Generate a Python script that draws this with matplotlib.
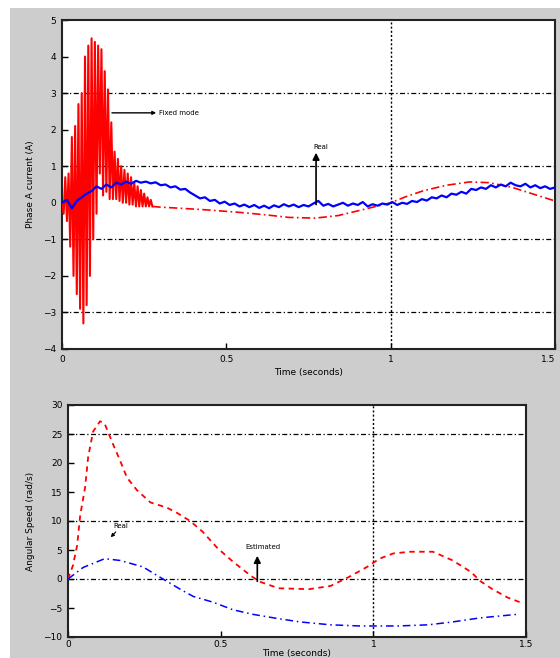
import numpy as np
import matplotlib
matplotlib.use("Agg")
import matplotlib.pyplot as plt
from matplotlib.patches import Rectangle

# ---------------- data: top panel (phase A current) ----------------
# red: start-up transient, read as peak / trough per switching cycle (0.01 s)
red_cycle = 0.01
red_peaks = [0.0, 0.7, 0.8, 1.8, 2.1, 2.7, 3.0, 4.0, 4.3, 4.5,
             4.4, 4.3, 4.2, 3.6, 3.1, 2.2, 1.4, 1.2, 1.0, 0.9,
             0.8, 0.7, 0.55, 0.45, 0.35, 0.25, 0.15, 0.08]
red_troughs = [-0.3, -0.5, -1.2, -2.0, -2.5, -2.9, -3.3, -2.8, -2.0, -1.0,
               -0.3, 0.8, 0.2, 0.3, 0.1, 0.1, 0.1, 0.05, 0.0, 0.0,
               -0.05, -0.05, -0.1, -0.1, -0.1, -0.1, -0.1, -0.1]
red_tail_t = [0.275, 0.30, 0.36, 0.45, 0.55, 0.62, 0.69, 0.77, 0.84, 0.91,
              1.00, 1.05, 1.10, 1.17, 1.24, 1.30, 1.37, 1.44, 1.50]
red_tail_i = [-0.1, -0.12, -0.15, -0.20, -0.27, -0.33, -0.40, -0.42, -0.35, -0.20,
              0.00, 0.18, 0.33, 0.48, 0.57, 0.55, 0.42, 0.22, 0.05]

blue_t = list(np.round(np.arange(0, 1.5001, 0.015), 3))
blue_i = [0.00, 0.08, -0.15, 0.05, 0.15, 0.25, 0.32, 0.45, 0.38, 0.50,
          0.42, 0.55, 0.50, 0.58, 0.52, 0.60, 0.55, 0.58, 0.53, 0.56,
          0.48, 0.50, 0.42, 0.45, 0.36, 0.38, 0.28, 0.20, 0.12, 0.15,
          0.05, 0.08, -0.02, 0.03, -0.06, -0.02, -0.10, -0.05, -0.12, -0.06,
          -0.14, -0.08, -0.15, -0.07, -0.12, -0.04, -0.10, -0.05, -0.12, -0.06,
          -0.10, -0.02, 0.05, -0.08, -0.03, -0.10, -0.05, 0.00, -0.08, -0.02,
          -0.06, 0.02, -0.10, -0.04, -0.08, -0.02, -0.05, 0.02, -0.06, 0.00,
          -0.03, 0.05, 0.02, 0.10, 0.06, 0.15, 0.12, 0.20, 0.15, 0.25,
          0.22, 0.30, 0.25, 0.38, 0.35, 0.42, 0.38, 0.48, 0.42, 0.50,
          0.45, 0.55, 0.48, 0.45, 0.52, 0.42, 0.48, 0.40, 0.45, 0.38,
          0.42]

top_yticks = [-4, -3, -2, -1, 0, 1, 2, 3, 4, 5]
top_ygrid = [3, 1, -1, -3]
xticks = [0, 0.5, 1, 1.5]
xticklabels = ["0", "0.5", "1", "1.5"]

# ---------------- data: bottom panel (angular speed) ----------------
red_w_t = [0.0, 0.016, 0.03, 0.04, 0.056, 0.066, 0.082, 0.105, 0.12, 0.147, 0.17,
           0.193, 0.226, 0.27, 0.324, 0.357, 0.40, 0.44, 0.49, 0.54, 0.60, 0.63,
           0.69, 0.79, 0.86, 0.92, 0.98, 1.02, 1.065, 1.12, 1.195, 1.26, 1.32,
           1.35, 1.39, 1.44, 1.48]
red_w = [0.0, 2.3, 5.8, 11.0, 15.8, 21.0, 25.4, 27.2, 26.8, 23.3, 20.5,
         17.5, 15.3, 13.2, 12.3, 11.4, 10.0, 8.2, 5.3, 3.0, 0.5, -0.5,
         -1.6, -1.75, -1.2, 0.35, 2.1, 3.5, 4.4, 4.7, 4.7, 3.2, 1.2,
         -0.35, -1.75, -3.2, -4.0]
blue_w_t = [0.0, 0.05, 0.12, 0.17, 0.245, 0.30, 0.367, 0.41, 0.475, 0.54, 0.606,
            0.685, 0.76, 0.86, 0.956, 1.08, 1.18, 1.26, 1.35, 1.47]
blue_w = [0.0, 2.0, 3.5, 3.2, 2.1, 0.35, -1.75, -3.0, -4.0, -5.3, -6.1,
          -6.8, -7.4, -7.9, -8.1, -8.1, -7.9, -7.4, -6.7, -6.1]

bot_yticks = [-10, -5, 0, 5, 10, 15, 20, 25, 30]
bot_ygrid = [25, 10, 0]

# interleave peaks / troughs of the transient
red_osc_t, red_osc_i = [], []
for k, (p, q) in enumerate(zip(red_peaks, red_troughs)):
    red_osc_t += [k * red_cycle, k * red_cycle + red_cycle / 2]
    red_osc_i += [p, q]

# ---------------- figure ----------------
fig = plt.figure(figsize=(5.6, 6.58), dpi=100, facecolor="white")
fig.patches.append(Rectangle((10 / 560, 0), 1 - 10 / 560, 1 - 8 / 658,
                             transform=fig.transFigure, facecolor="#cdcdcd",
                             edgecolor="none", zorder=-10))

gridstyle = dict(color="black", lw=0.9, ls=(0, (4, 2, 1, 2)), zorder=1)
vgridstyle = dict(color="black", lw=1.0, ls=(0, (1.5, 1.5)), zorder=1)
fs = 6.5


def style_axes(ax):
    ax.set_facecolor("white")
    ax.set_zorder(1)
    for s in ax.spines.values():
        s.set_linewidth(1.5)
        s.set_color("#222222")
    ax.tick_params(direction="in", length=4, width=1.0, labelsize=fs, pad=4)


# top axes
ax1 = fig.add_axes([62 / 560, 1 - 349 / 658, 493 / 560, 329 / 658])
style_axes(ax1)
for g in top_ygrid:
    ax1.axhline(g, **gridstyle)
ax1.axvline(1.0, **vgridstyle)
ax1.plot(red_osc_t, red_osc_i, color="red", lw=1.5, zorder=3)
ax1.plot(red_tail_t, red_tail_i, color="red", lw=1.2, ls=(0, (5, 2, 1, 2)), zorder=3)
ax1.plot(blue_t, blue_i, color="blue", lw=1.6, zorder=4)
ax1.set_xlim(0, 1.5)
ax1.set_ylim(-4, 5)
ax1.set_xticks(xticks)
ax1.set_xticklabels(xticklabels)
ax1.get_xticklabels()[-1].set_ha("right")
ax1.set_yticks(top_yticks)
ax1.set_xlabel("Time (seconds)", fontsize=fs, labelpad=3)
ax1.set_ylabel("Phase A current (A)", fontsize=fs, labelpad=6)
ax1.annotate("Fixed mode", xy=(0.152, 2.46), xytext=(0.295, 2.46),
             fontsize=5, va="center", ha="left",
             arrowprops=dict(arrowstyle="<|-", color="black", lw=1.0,
                             shrinkA=0, shrinkB=0), zorder=5)
ax1.annotate("", xy=(0.773, 1.37), xytext=(0.773, -0.05),
             arrowprops=dict(arrowstyle="-|>", color="black", lw=1.2,
                             shrinkA=0, shrinkB=0), zorder=5)
ax1.text(0.765, 1.45, "Real", fontsize=5, ha="left", va="bottom")

# bottom axes
ax2 = fig.add_axes([68 / 560, 1 - 637 / 658, 458 / 560, 232 / 658])
style_axes(ax2)
for g in bot_ygrid:
    ax2.axhline(g, **gridstyle)
ax2.axvline(1.0, **vgridstyle)
ax2.plot(red_w_t, red_w, color="red", lw=1.3, ls=(0, (3, 2.5)), zorder=3)
ax2.plot(blue_w_t, blue_w, color="blue", lw=1.1, ls=(0, (5, 2.5, 1, 2.5)), zorder=3)
ax2.set_xlim(0, 1.5)
ax2.set_ylim(-10, 30)
ax2.set_xticks(xticks)
ax2.set_xticklabels(xticklabels)
ax2.set_yticks(bot_yticks)
ax2.tick_params(axis="x", pad=2)
ax2.set_xlabel("Time (seconds)", fontsize=fs, labelpad=0)
ax2.set_ylabel("Angular Speed (rad/s)", fontsize=fs, labelpad=6)
ax2.annotate("Real", xy=(0.14, 7.2), xytext=(0.15, 8.6),
             fontsize=5, ha="left", va="bottom",
             arrowprops=dict(arrowstyle="-|>", color="black", lw=0.8,
                             shrinkA=0, shrinkB=0))
ax2.annotate("", xy=(0.62, 4.0), xytext=(0.62, -0.4),
             arrowprops=dict(arrowstyle="-|>", color="black", lw=1.2,
                             shrinkA=0, shrinkB=0), zorder=5)
ax2.text(0.58, 5.0, "Estimated", fontsize=5, ha="left", va="bottom")

fig.savefig("out.png", dpi=100, facecolor=fig.get_facecolor())
